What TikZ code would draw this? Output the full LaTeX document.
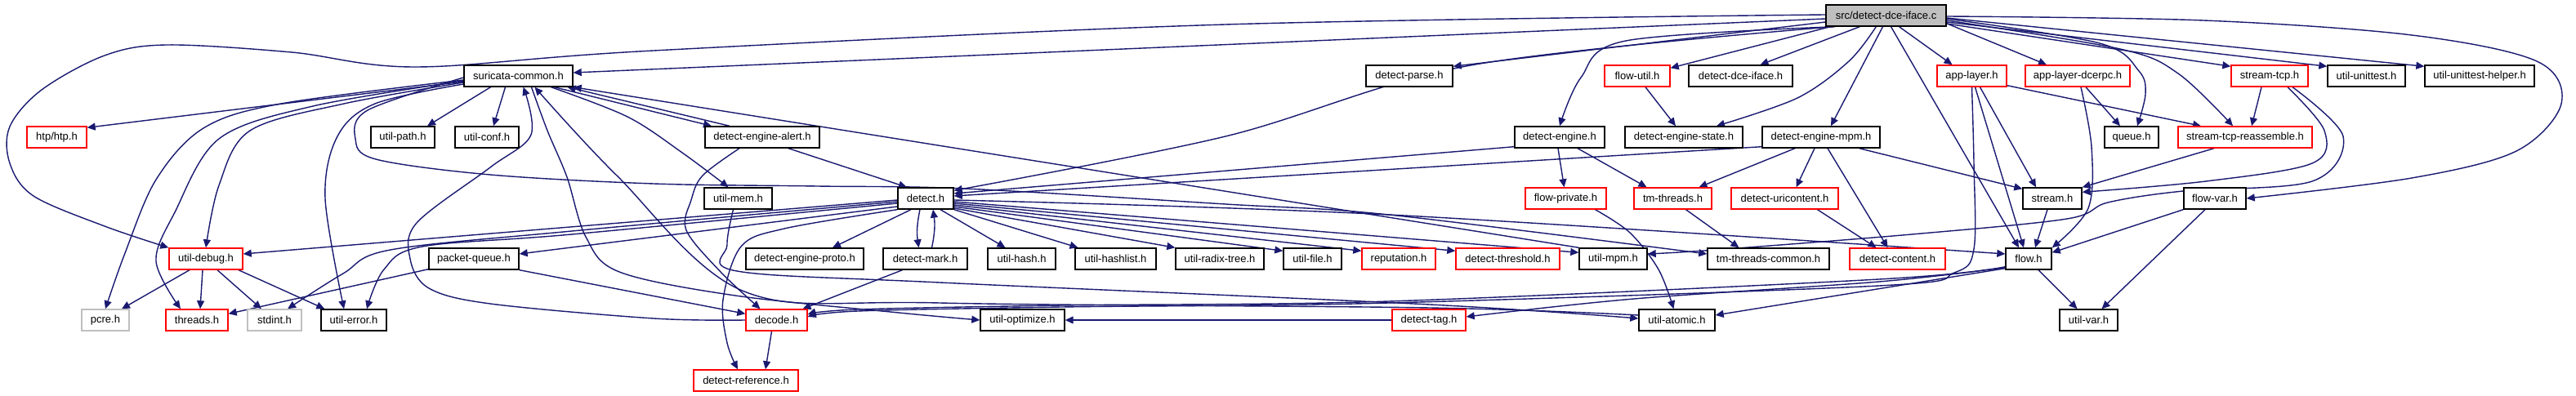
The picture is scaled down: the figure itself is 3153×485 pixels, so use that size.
\documentclass[tikz,border=0pt]{standalone}
\usepackage{fontspec}
\setmainfont{Liberation Sans}
\usetikzlibrary{arrows.meta}
\pgfdeclarelayer{bg}
\pgfsetlayers{bg,main}
\definecolor{edgec}{HTML}{191970}
\definecolor{redb}{HTML}{FF0000}
\definecolor{grayb}{HTML}{BFBFBF}
\begin{document}
\begin{tikzpicture}[x=0.5pt,y=-0.5pt,
 box/.style={draw=black, line width=0.7pt, minimum height=13pt, inner sep=0pt, fill=white, text=black, font=\fontsize{6.5pt}{7pt}\selectfont},
 rbox/.style={box, draw=redb},
 gbox/.style={box, draw=grayb},
 wd/.style={minimum width=#1*0.5pt},
 edge/.style={draw=edgec, line width=0.7pt, -{Triangle[length=5pt,width=4.5pt]}},
 sm/.style={smooth, tension=0.55}]
\useasboundingbox (0,0) rectangle (3153,485);
% row 0
\node[box, fill=grayb, wd=147] (T) at (2308.5,19) {src/detect-dce-iface.c};
% row 1
\node[box, wd=133] (sc) at (634.5,93) {suricata-common.h};
\node[box, wd=106] (dparse) at (1725,93) {detect-parse.h};
\node[rbox, wd=80] (futil) at (2004,93) {flow-util.h};
\node[box, wd=127] (ddce) at (2130.5,93) {detect-dce-iface.h};
\node[rbox, wd=85] (alayer) at (2413.5,93) {app-layer.h};
\node[rbox, wd=128] (adcerpc) at (2543,93) {app-layer-dcerpc.h};
\node[rbox, wd=94] (stcp) at (2778,93) {stream-tcp.h};
\node[box, wd=95] (uunit) at (2896.5,93) {util-unittest.h};
\node[box, wd=134] (uunith) at (3035,93) {util-unittest-helper.h};
% row 2
\node[rbox, wd=73] (htp) at (69.5,168) {htp/htp.h};
\node[box, wd=78] (upath) at (493,168) {util-path.h};
\node[box, wd=78] (uconf) at (596,168) {util-conf.h};
\node[box, wd=140] (dealert) at (933,168) {detect-engine-alert.h};
\node[box, wd=110] (dengine) at (1909,168) {detect-engine.h};
\node[box, wd=144] (destate) at (2061,168) {detect-engine-state.h};
\node[box, wd=144] (dempm) at (2229,168) {detect-engine-mpm.h};
\node[box, wd=66] (queue) at (2609,168) {queue.h};
\node[rbox, wd=164] (streasm) at (2748,168) {stream-tcp-reassemble.h};
% row 3
\node[box, wd=83] (umem) at (903.5,243) {util-mem.h};
\node[box, wd=68] (detect) at (1133,243) {detect.h};
\node[rbox, wd=99] (fpriv) at (1916.5,243) {flow-private.h};
\node[rbox, wd=95] (tmthr) at (2047.5,243) {tm-threads.h};
\node[rbox, wd=131] (duri) at (2184.5,243) {detect-uricontent.h};
\node[box, wd=72] (stream) at (2512,243) {stream.h};
\node[box, wd=76] (fvar) at (2711,243) {flow-var.h};
% row 4
\node[rbox, wd=90] (udebug) at (252,317) {util-debug.h};
\node[box, wd=110] (pqueue) at (580,317) {packet-queue.h};
\node[box, wd=144] (deproto) at (985,317) {detect-engine-proto.h};
\node[box, wd=103] (dmark) at (1132.5,317) {detect-mark.h};
\node[box, wd=83] (uhash) at (1250.5,317) {util-hash.h};
\node[box, wd=99] (uhashl) at (1365.5,317) {util-hashlist.h};
\node[box, wd=108] (uradix) at (1493,317) {util-radix-tree.h};
\node[box, wd=71] (ufile) at (1606.5,317) {util-file.h};
\node[rbox, wd=90] (rep) at (1712,317) {reputation.h};
\node[rbox, wd=127] (dthresh) at (1845.5,317) {detect-threshold.h};
\node[box, wd=83] (umpm) at (1974.5,317) {util-mpm.h};
\node[box, wd=149] (tmcommon) at (2164.5,317) {tm-threads-common.h};
\node[rbox, wd=117] (dcontent) at (2322.5,317) {detect-content.h};
\node[box, wd=56] (flow) at (2483,317) {flow.h};
% row 5
\node[gbox, wd=58] (pcre) at (129,392) {pcre.h};
\node[rbox, wd=76] (threads) at (241,392) {threads.h};
\node[gbox, wd=66] (stdint) at (336,392) {stdint.h};
\node[box, wd=80] (uerror) at (433,392) {util-error.h};
\node[rbox, wd=75] (decode) at (950.5,392) {decode.h};
\node[box, wd=103] (uopt) at (1251.5,392) {util-optimize.h};
\node[rbox, wd=90] (dtag) at (1749,392) {detect-tag.h};
\node[box, wd=93] (uatomic) at (2052.5,392) {util-atomic.h};
\node[box, wd=71] (uvar) at (2556.5,392) {util-var.h};
% row 6
\node[rbox, wd=128] (dref) at (913,466) {detect-reference.h};

\begin{pgfonlayer}{bg}
% ---- from the root file
\draw[edge] ([yshift=-2pt]T.west) -- ([yshift=2pt]sc.east);
\draw[edge] plot[sm] coordinates {([yshift=0.5pt]T.west) (1500,30) (800,62) (510,82) (357,64) (204,55) (128,68) (51,110) (12,155) (12,200) (41,240) (128,277) (udebug.north west)};
\draw[edge] plot[sm] coordinates {([xshift=5pt]T.south west) (1800,80) (1500,167) ([yshift=-2pt]detect.north east)};
\draw[edge] ([yshift=-4pt]T.west) -- ([yshift=-1pt]dparse.north east);
\draw[edge] plot[sm] coordinates {([xshift=6pt]T.south west) (1990,50) (1935,95) (dengine.north)};
\draw[edge] ([xshift=3pt]T.south west) -- ([yshift=-2pt]futil.north east);
\draw[edge] ([xshift=21pt]T.south west) -- ([xshift=12pt]ddce.north);
\draw[edge] plot[sm] coordinates {([xshift=31pt]T.south west) (2263,75) (2200,120) ([xshift=20pt]destate.north)};
\draw[edge] ([xshift=-2pt]T.south) -- ([xshift=6pt]dempm.north);
\draw[edge] ([xshift=3pt]T.south) -- ([xshift=-6pt]flow.north);
\draw[edge] ([xshift=8pt]T.south) -- ([xshift=-12pt]alayer.north);
\draw[edge] ([yshift=2pt]T.south east) -- ([xshift=-19pt]adcerpc.north);
\draw[edge] plot[sm] coordinates {([yshift=-2pt]T.east) (2570,53) (2618,87) (2626,115) ([xshift=3.5pt]queue.north)};
\draw[edge] plot[sm] coordinates {([yshift=-3pt]T.east) (2595,60) (2666,90) ([xshift=-7.5pt]streasm.north)};
\draw[edge] ([yshift=-5pt]T.east) -- ([yshift=-1pt]stcp.north west);
\draw[edge] ([yshift=-4pt]T.east) -- ([yshift=-1pt]uunit.north west);
\draw[edge] ([yshift=-1.5pt]T.east) -- ([yshift=-1pt]uunith.north west);
\draw[edge] plot[sm] coordinates {([yshift=-0.5pt]T.east) (2697,25) (2952,43) (3105,75) (3135,127) (3080,185) (2952,218) (fvar.east)};
% ---- suricata-common.h
\draw[edge] ([yshift=-3.5pt]sc.west) -- ([yshift=-1pt]htp.north east);
\draw[edge] plot[sm] coordinates {([yshift=-2.5pt]sc.west) (344,127) (249,157) (191,220) (153,310) (pcre.north)};
\draw[edge] plot[sm] coordinates {([yshift=-3pt]sc.west) (383,130) (268,170) (214,260) (191,320) ([xshift=-10pt]threads.north)};
\draw[edge] plot[sm] coordinates {([yshift=-4pt]sc.west) (421,127) (306,160) (268,227) (udebug.north)};
\draw[edge] plot[sm] coordinates {([yshift=-5pt]sc.west) (459,127) (413,167) (398,243) ([xshift=-6pt]uerror.north)};
\draw[edge] ([xshift=-17pt]sc.south) -- ([xshift=15pt]upath.north);
\draw[edge] ([xshift=-8pt]sc.south) -- ([xshift=4pt]uconf.north);
\draw[edge] plot[sm] coordinates {([yshift=-1pt]sc.west) (450,135) (435,170) (460,195) (600,214) (800,225) (1000,228) (1180,231) (1500,250) (1700,263) ([yshift=3pt]tmcommon.west)};
\draw[edge] ([xshift=22pt]sc.south) -- ([xshift=-31pt]dealert.north);
\draw[edge] ([xshift=-20pt]dealert.north) -- ([xshift=30pt]sc.south);
\draw[edge] plot[sm] coordinates {([xshift=20pt]sc.south) (768,143) (835,187) ([xshift=-6pt]umem.north)};
\draw[edge] (umpm.north west) -- (sc.south east);
\draw[edge] plot[sm] coordinates {(decode.west) (800,390) (600,372) (525,353) (502,317) (510,273) (600,205) (650,165) ([xshift=3pt]sc.south)};
\draw[edge] plot[sm] coordinates {([xshift=8pt]sc.south) (670,160) (694,217) (717,290) (758,333) (900,362) (1100,383) (uopt.west)};
\draw[edge] plot[sm] coordinates {([yshift=3pt]uatomic.west) (1750,377) (1150,371) (911,357) (755,215) ([xshift=10pt]sc.south)};
\draw[edge] plot[sm] coordinates {([xshift=-3pt]umem.south) (890,300) (902,332) (1150,346) (1750,373) ([yshift=1pt]uatomic.west)};
% ---- detect.h
\draw[edge] ([xshift=16pt]dealert.south) -- ([xshift=-11.5pt]detect.north);
\draw[edge] ([xshift=-9pt]detect.south) -- ([xshift=17pt]deproto.north);
\draw[edge] ([xshift=-3.5pt]detect.south) to[bend right=10] ([xshift=-4pt]dmark.north);
\draw[edge] ([xshift=4pt]dmark.north) to[bend right=10] ([xshift=4.5pt]detect.south);
\draw[edge] ([xshift=9pt]detect.south) -- ([xshift=-10pt]uhash.north);
\draw[edge] (detect.south east) -- ([xshift=-23pt]uhashl.north);
\draw[edge] ([yshift=-6pt]detect.east) -- (uradix.north west);
\draw[edge] ([yshift=-5pt]detect.east) -- ([yshift=-2pt]ufile.north west);
\draw[edge] ([yshift=-4pt]detect.east) -- ([yshift=-2pt]rep.north west);
\draw[edge] ([yshift=-3pt]detect.east) -- ([yshift=-2pt]dthresh.north west);
\draw[edge] ([yshift=-2pt]detect.east) -- ([yshift=-3pt]umpm.north west);
\draw[edge] plot[sm] coordinates {([yshift=-1pt]detect.east) (1700,263) ([yshift=3pt]flow.west)};
\draw[edge] ([yshift=-1pt]detect.west) -- ([yshift=3pt]udebug.east);
\draw[edge] plot[sm] coordinates {([yshift=-2pt]detect.west) (700,283) (478,306) (420,335) ([xshift=8pt]stdint.north)};
\draw[edge] plot[sm] coordinates {([yshift=-3pt]detect.west) (700,287) (517,302) (470,330) ([xshift=8pt]uerror.north)};
\draw[edge] ([yshift=-5pt]detect.west) -- ([yshift=3pt]pqueue.east);
\draw[edge] plot[sm] coordinates {(detect.south west) (960,280) (907,302) (885,367) (890,420) ([xshift=-5pt]dref.north)};
\draw[edge] ([yshift=1pt]dengine.south west) -- ([yshift=3pt]detect.east);
\draw[edge] ([yshift=1pt]dempm.south west) -- ([yshift=1.5pt]detect.east);
% ---- detect-engine / mpm
\draw[edge] ([xshift=-1pt]dengine.south) -- ([xshift=-1pt]fpriv.north);
\draw[edge] ([xshift=11pt]dengine.south) -- ([xshift=-16pt]tmthr.north);
\draw[edge] ([xshift=-16pt]dempm.south) -- ([xshift=16pt]tmthr.north);
\draw[edge] ([xshift=-4pt]dempm.south) -- ([xshift=7pt]duri.north);
\draw[edge] ([xshift=4pt]dempm.south) -- ([xshift=-6pt]dcontent.north);
\draw[edge] ([xshift=-13pt]dempm.south east) -- ([yshift=-1pt]stream.north west);
\draw[edge] ([xshift=5pt]futil.south) -- ([xshift=-5pt]destate.north);
\draw[edge] plot[sm] coordinates {([xshift=18pt]fpriv.south) (1995,285) (2030,330) ([xshift=-2pt]uatomic.north)};
\draw[edge] ([xshift=8pt]tmthr.south) -- ([xshift=-18pt]tmcommon.north);
\draw[edge] ([xshift=20pt]duri.south) -- ([xshift=-13pt]dcontent.north);
% ---- app-layer, stream, flow
\draw[edge] ([xshift=2pt]alayer.south) -- ([xshift=-3pt]flow.north);
\draw[edge] ([xshift=5pt]alayer.south) -- ([xshift=-10pt]stream.north);
\draw[edge] ([yshift=1pt]alayer.south east) -- ([xshift=-27pt]streasm.north);
\draw[edge] plot[sm] coordinates {(alayer.south) (2416,200) (2416,305) (2392,334) (2300,350) (1700,371) (1300,376) (1050,381) ([yshift=2pt]decode.east)};
\draw[edge] ([xshift=5pt]adcerpc.south) -- ([xshift=-7pt]queue.north);
\draw[edge] plot[sm] coordinates {([xshift=2pt]adcerpc.south) (2560,180) (2556,255) (flow.north east)};
\draw[edge] ([xshift=-5pt]stcp.south) -- ([xshift=4pt]streasm.north);
\draw[edge] plot[sm] coordinates {([xshift=11pt]stcp.south) (2845,160) (2830,200) (2700,222) ([yshift=-3pt]stream.north east)};
\draw[edge] plot[sm] coordinates {([xshift=14pt]stcp.south) (2868,167) (2830,222) (2672,234) (2580,248) (2530,268) (2340,287) (2100,306) ([yshift=3pt]umpm.east)};
\draw[edge] ([xshift=-19pt]streasm.south) -- (stream.north east);
\draw[edge] ([xshift=-3pt]stream.south) -- ([xshift=4pt]flow.north);
\draw[edge] (fvar.south west) -- ([yshift=-3pt]flow.north east);
\draw[edge] ([xshift=-6pt]fvar.south) -- ([xshift=8pt]uvar.north);
\draw[edge] ([xshift=6pt]flow.south) -- ([xshift=-7pt]uvar.north);
\draw[edge] ([yshift=1pt]flow.south west) -- ([yshift=3pt]uatomic.east);
\draw[edge] plot[sm] coordinates {([yshift=1.5pt]flow.south west) (2300,345) (2000,366) ([yshift=2pt]dtag.east)};
\draw[edge] plot[sm] coordinates {([yshift=2pt]flow.south west) (2300,342) (1700,369) (1300,374) (1050,379) ([yshift=3.5pt]decode.east)};
% ---- lower left
\draw[edge] ([yshift=0.5pt]pqueue.south west) -- ([yshift=-3pt]threads.north east);
\draw[edge] (pqueue.south east) -- ([yshift=-3pt]decode.north west);
\draw[edge] ([xshift=-14pt]dmark.south) -- ([xshift=16pt]decode.north);
\draw[edge] plot[sm] coordinates {([xshift=-14pt]dealert.south) (860,215) (846,245) (840,282) (882,333) ([xshift=-10pt]decode.north)};
\draw[edge] ([xshift=-3pt]decode.south) -- ([xshift=12pt]dref.north);
\draw[edge] ([xshift=-10pt]udebug.south) -- ([xshift=10pt]pcre.north);
\draw[edge] ([xshift=-2pt]udebug.south) -- ([xshift=2pt]threads.north);
\draw[edge] ([xshift=7pt]udebug.south) -- ([xshift=-8pt]stdint.north);
\draw[edge] ([xshift=20pt]udebug.south) -- ([xshift=2.5pt]uerror.north west);
\draw[edge] (dtag.west) -- (uopt.east);
\end{pgfonlayer}
\end{tikzpicture}
\end{document}
